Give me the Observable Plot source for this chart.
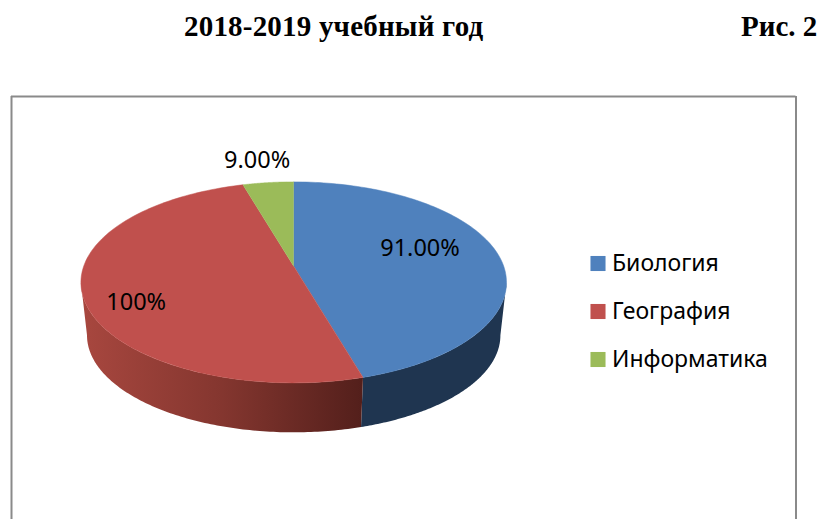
<!DOCTYPE html>
<html lang="ru">
<head>
<meta charset="utf-8">
<script src="https://cdn.jsdelivr.net/npm/d3@7"></script>
<script src="https://cdn.jsdelivr.net/npm/@observablehq/plot@0.6"></script>
<style>
html,body{margin:0;padding:0;background:#fff;width:819px;height:519px;overflow:hidden}
#head{position:relative;height:90px;font:bold 29px "Liberation Serif",serif;color:#000}
#head span{position:absolute;top:10px;white-space:nowrap}
#chart svg{display:block}
</style>
</head>
<body>
<div id="head"><span style="left:184px;letter-spacing:.2px">2018-2019 учебный год</span><span style="left:741px">Рис. 2</span></div>
<div id="chart"></div>
<script>
const categories = ["Биология", "География", "Информатика"];
const values = [91, 100, 9];
const valueLabels = ["91.00%", "100%", "9.00%"];
const colors = ["#4f81bd", "#c0504d", "#9bbb59"];

// view model of the tilted disc (page pixels)
const tilt = 0.161, top_ = {cx: 293.2, cy: 265.7, b: 210, a: 97.9}, base = {cx: 293.2, cy: 319.2, b: 204, a: 94.5};
const labelPlacement = [[419.5, 248], [135.7, 302], [256.7, 160]];
const legendX = 597.5, legendRows = [263, 311, 359];
const frame = {left: 11, top: 96, right: 795.5, bottom: 519};

const total = d3.sum(values);
const project = (d, t) => {
  const u = Math.sin(t), v = -Math.cos(t), w = 1 - tilt * v;
  return {x: d.cx + d.b * u / w, y: d.cy + d.a * v / w};
};
const arc = (d, t0, t1) => d3.range(0, 121).map(i => project(d, t0 + (t1 - t0) * i / 120));

let acc = 0;
const slices = values.map(v => {
  const s = {t0: acc / total * 2 * Math.PI};
  acc += v;
  s.t1 = acc / total * 2 * Math.PI;
  return s;
});
const tRight = Math.acos(-tilt), tLeft = 2 * Math.PI - tRight;
const wedge = s => [{x: top_.cx, y: top_.cy}, ...arc(top_, s.t0, s.t1)];
const wall = (t0, t1) => [...arc(top_, t0, t1), ...arc(base, t1, t0)];

const gx = {x: "x", y: "y", stroke: "none", curve: "linear"};
const plot = Plot.plot({
  width: 819, height: 429,
  margin: 0,
  x: {domain: [0, 819], range: [0, 819], axis: null},
  y: {domain: [90, 519], range: [0, 429], axis: null},
  style: {background: "#fff", fontFamily: "'Noto Sans',sans-serif", overflow: "hidden"},
  marks: [
    Plot.ruleY([frame.top], {x1: frame.left, x2: frame.right, stroke: "#8a8a8a", strokeWidth: 2}),
    Plot.ruleX([frame.left], {y1: frame.top, y2: frame.bottom, stroke: "#8a8a8a", strokeWidth: 2}),
    Plot.ruleX([frame.right], {y1: frame.top, y2: frame.bottom, stroke: "#8a8a8a", strokeWidth: 2}),
    Plot.line(wall(tRight, slices[0].t1), {...gx, fill: "#1f3550"}),
    Plot.line(wall(slices[0].t1, tLeft), {...gx, fill: "url(#redWall)"}),
    ...slices.map((s, i) => Plot.line(wedge(s), {...gx, fill: colors[i], stroke: colors[i], strokeWidth: 0.5})),
    Plot.text(valueLabels, {
      x: (d, i) => labelPlacement[i][0], y: (d, i) => labelPlacement[i][1],
      text: d => d, fontSize: 23.5, fill: "#000", textAnchor: "middle", lineAnchor: "middle"
    }),
    Plot.dot(categories, {
      x: () => legendX, y: (d, i) => legendRows[i], symbol: "square", r: 8.5,
      fill: (d, i) => colors[i], stroke: "none"
    }),
    Plot.text(categories, {
      x: () => legendX + 14, y: (d, i) => legendRows[i], text: d => d,
      fontSize: 23, fill: "#000", textAnchor: "start", lineAnchor: "middle"
    })
  ]
});
const NS = "http://www.w3.org/2000/svg";
const defs = document.createElementNS(NS, "defs");
defs.innerHTML = '<linearGradient id="redWall" x1="0" x2="1" y1="0" y2="0">' +
  '<stop offset="0" stop-color="#a8473f"/><stop offset="0.5" stop-color="#84362f"/><stop offset="1" stop-color="#531f1b"/></linearGradient>';
plot.insertBefore(defs, plot.firstChild);
document.getElementById("chart").appendChild(plot);
</script>
</body>
</html>
